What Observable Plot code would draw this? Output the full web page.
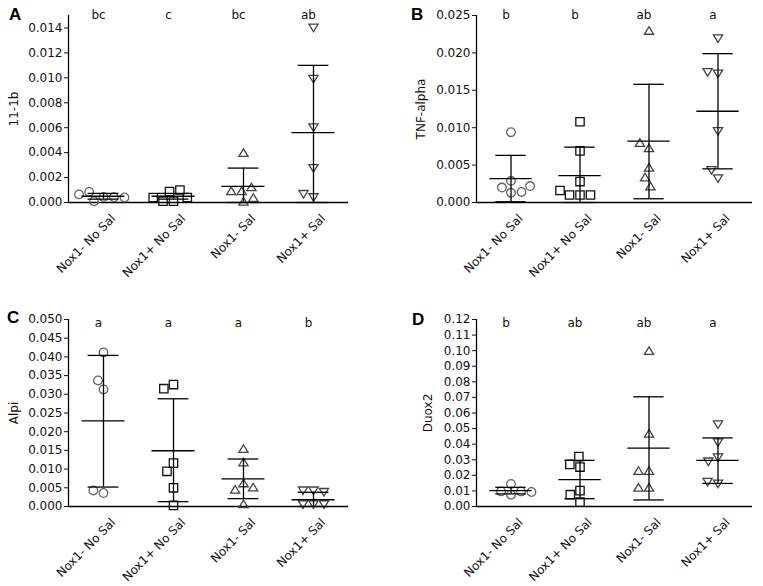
<!DOCTYPE html>
<html>
<head>
<meta charset="utf-8">
<script src="https://cdn.jsdelivr.net/npm/d3@7"></script>
<script src="https://cdn.jsdelivr.net/npm/@observablehq/plot@0.6"></script>
<style>
  body { margin: 0; background: white; }
  #wrap { position: relative; width: 763px; height: 586px; background: white; font-family: "DejaVu Sans", sans-serif; }
  .cell { position: absolute; }
  .tag { position: absolute; font-family: "Liberation Sans", Arial, sans-serif; font-weight: bold; font-size: 17px; color: #000; }
</style>
</head>
<body>
<div id="wrap">
  <div class="cell" id="pA" style="left:0px;top:0px"></div>
  <div class="cell" id="pB" style="left:380px;top:0px"></div>
  <div class="cell" id="pC" style="left:0px;top:290px"></div>
  <div class="cell" id="pD" style="left:380px;top:290px"></div>
  <div class="tag" style="left:9px;top:5px">A</div>
  <div class="tag" style="left:411px;top:5px">B</div>
  <div class="tag" style="left:7px;top:308px">C</div>
  <div class="tag" style="left:412px;top:310px">D</div>
</div>
<script>
const groups = ["Nox1- No Sal", "Nox1+ No Sal", "Nox1- Sal", "Nox1+ Sal"];

// Panel A: 11-1b
const il1bValues = [
  [0.00045, 0.0001, 0.00042, 0.00085, 0.0004, 0.00065],
  [0.0001, 0.0001, 0.00088, 0.001, 0.0004, 0.0004],
  [0.004, 0.0001, 0.00093, 0.0004, 0.00125, 0.00093],
  [0.014, 0.0099, 0.006, 0.00274, 0.0004, 0.00066]
];
const il1bMean = [0.0005, 0.0005, 0.0013, 0.0056];
const il1bLow = [0.00027, 0.00027, 0, 0];
const il1bHigh = [0.00073, 0.00073, 0.00276, 0.011];
const il1bLetters = ["bc", "c", "bc", "ab"];
const il1bTicks = [0, 0.002, 0.004, 0.006, 0.008, 0.010, 0.012, 0.014];

// Panel B: TNF-alpha
const tnfValues = [
  [0.0094, 0.0013, 0.002, 0.0014, 0.0029, 0.0022],
  [0.0108, 0.0069, 0.0028, 0.001, 0.001, 0.001, 0.0016],
  [0.023, 0.0047, 0.0073, 0.008, 0.0034, 0.0022],
  [0.0219, 0.0095, 0.0172, 0.0174, 0.0032, 0.0043]
];
const tnfMean = [0.0032, 0.0036, 0.0082, 0.0122];
const tnfLow = [0.0001, 0, 0.0005, 0.0045];
const tnfHigh = [0.0063, 0.0074, 0.0158, 0.0199];
const tnfLetters = ["b", "b", "ab", "a"];
const tnfTicks = [0, 0.005, 0.010, 0.015, 0.020, 0.025];

// Panel C: Alpi
const alpiValues = [
  [0.0412, 0.0313, 0.0337, 0.0036, 0.0043],
  [0.0326, 0.0315, 0.0116, 0.0094, 0.005, 0.0003],
  [0.0155, 0.0119, 0.0063, 0.0046, 0.0052, 0.0007],
  [0.0042, 0.0042, 0.0038, 0.0005, 0.0005, 0.0005]
];
const alpiMean = [0.0229, 0.0149, 0.0074, 0.0018];
const alpiLow = [0.0052, 0.0013, 0.0021, 0];
const alpiHigh = [0.0404, 0.0288, 0.0127, 0.0038];
const alpiLetters = ["a", "a", "a", "b"];
const alpiTicks = [0, 0.005, 0.010, 0.015, 0.020, 0.025, 0.030, 0.035, 0.040, 0.045, 0.050];

// Panel D: Duox2
const duoxValues = [
  [0.0076, 0.0097, 0.0097, 0.0145, 0.0093],
  [0.0028, 0.0253, 0.032, 0.027, 0.0102, 0.0076],
  [0.1, 0.0469, 0.0231, 0.0231, 0.0123, 0.0123],
  [0.0525, 0.041, 0.0313, 0.0287, 0.0145, 0.0156]
];
const duoxMean = [0.0102, 0.0173, 0.0375, 0.0296];
const duoxLow = [0.0081, 0.005, 0.0042, 0.0148];
const duoxHigh = [0.0123, 0.0296, 0.0704, 0.044];
const duoxLetters = ["b", "ab", "ab", "a"];
const duoxTicks = [0, 0.01, 0.02, 0.03, 0.04, 0.05, 0.06, 0.07, 0.08, 0.09, 0.10, 0.11, 0.12];

// custom hollow symbols (drawn a bit smaller than the dodge collision radius)
const DODGE_R = 5;
const K = 0.88;
const rad = (size) => Math.sqrt(size / Math.PI) * K;
const symCircle = {draw(c, s) { const r = rad(s) * 0.98; c.moveTo(r, 0); c.arc(0, 0, r, 0, 2 * Math.PI); }};
const symSquare = {draw(c, s) { const r = rad(s) * 0.95; c.rect(-r, -r, 2 * r, 2 * r); }};
const symUp = {draw(c, s) { const r = rad(s) * 1.05; const h = r * 0.82; c.moveTo(0, -h); c.lineTo(r, h); c.lineTo(-r, h); c.closePath(); }};
const symDown = {draw(c, s) { const r = rad(s) * 1.05; const h = r * 0.82; c.moveTo(0, h); c.lineTo(r, -h); c.lineTo(-r, -h); c.closePath(); }};
const symbols = [symCircle, symSquare, symUp, symDown];
const strokes = ["#666", "#111", "#444", "#444"];

function panel(o) {
  const stats = groups.map((g, i) => ({g, mean: o.mean[i], lo: o.low[i], hi: o.high[i], letter: o.letters[i]}));
  const dotMarks = groups.map((g, i) => {
    const pts = o.values[i].map(v => ({g, v}));
    return Plot.dot(pts, Plot.dodgeX({anchor: "middle", r: DODGE_R, padding: 0.5}, {
      fx: "g", y: "v", r: DODGE_R, symbol: symbols[i], stroke: strokes[i], strokeWidth: 1.3, fill: "none"
    }));
  });
  return Plot.plot({
    width: o.width, height: o.height,
    marginLeft: o.ml, marginRight: o.mr, marginTop: o.mt, marginBottom: o.mb,
    style: {fontFamily: "DejaVu Sans", fontSize: "12px", color: "#111", background: "white", overflow: "visible"},
    fx: {domain: groups, padding: 0, axis: null},
    x: {domain: [-1, 1], axis: null},
    y: {domain: o.domain, axis: null},
    marks: [
      Plot.axisY({ticks: o.ticks, tickFormat: d3.format(o.fmt), tickSize: 4, tickPadding: 2,
        label: o.label, labelAnchor: "center", labelArrow: "none", labelOffset: o.labelOffset, fontSize: 12}),
      Plot.axisFx({anchor: "bottom", tickRotate: -45, tickSize: 0, tickPadding: 0, dx: 10, dy: 14, label: null, fontSize: 12}),
      Plot.ruleY([0], {stroke: "#000", strokeWidth: 1.3}),
      Plot.ruleX([groups[0]], {fx: d => d, x: -1, y1: o.domain[0], y2: o.domain[1], stroke: "#000", strokeWidth: 1.3}),
      ...dotMarks,
      Plot.ruleY(stats, {fx: "g", y: "mean", x1: -0.614, x2: 0.614, stroke: "#000", strokeWidth: 1.3}),
      Plot.ruleX(stats, {fx: "g", x: 0, y1: "lo", y2: "hi", stroke: "#000", strokeWidth: 1.3}),
      Plot.ruleY(stats, {fx: "g", y: "lo", x1: -0.44, x2: 0.44, stroke: "#000", strokeWidth: 1.3}),
      Plot.ruleY(stats, {fx: "g", y: "hi", x1: -0.44, x2: 0.44, stroke: "#000", strokeWidth: 1.3}),
      Plot.text(stats, {fx: "g", text: "letter", frameAnchor: "top", lineAnchor: "middle", dx: -5, dy: o.letterDy, fontSize: 12, fill: "#111"})
    ]
  });
}

const leftCol = {width: 380, ml: 68, mr: 32};
const rightCol = {width: 383, ml: 94, mr: 10};
const topRow = {height: 290, mt: 15, mb: 88, letterDy: 0};
const bottomRow = {height: 296, mt: 29, mb: 80, letterDy: 4};

document.getElementById("pA").appendChild(panel({...leftCol, ...topRow,
  values: il1bValues, mean: il1bMean, low: il1bLow, high: il1bHigh, letters: il1bLetters,
  ticks: il1bTicks, domain: [0, 0.015], fmt: ".3f", label: "11-1b", labelOffset: 59}));
document.getElementById("pB").appendChild(panel({...rightCol, ...topRow,
  values: tnfValues, mean: tnfMean, low: tnfLow, high: tnfHigh, letters: tnfLetters,
  ticks: tnfTicks, domain: [0, 0.025], fmt: ".3f", label: "TNF-alpha", labelOffset: 60}));
document.getElementById("pC").appendChild(panel({...leftCol, ...bottomRow,
  values: alpiValues, mean: alpiMean, low: alpiLow, high: alpiHigh, letters: alpiLetters,
  ticks: alpiTicks, domain: [0, 0.05], fmt: ".3f", label: "Alpi", labelOffset: 59}));
document.getElementById("pD").appendChild(panel({...rightCol, ...bottomRow,
  values: duoxValues, mean: duoxMean, low: duoxLow, high: duoxHigh, letters: duoxLetters,
  ticks: duoxTicks, domain: [0, 0.12], fmt: ".2f", label: "Duox2", labelOffset: 53}));
</script>
</body>
</html>
